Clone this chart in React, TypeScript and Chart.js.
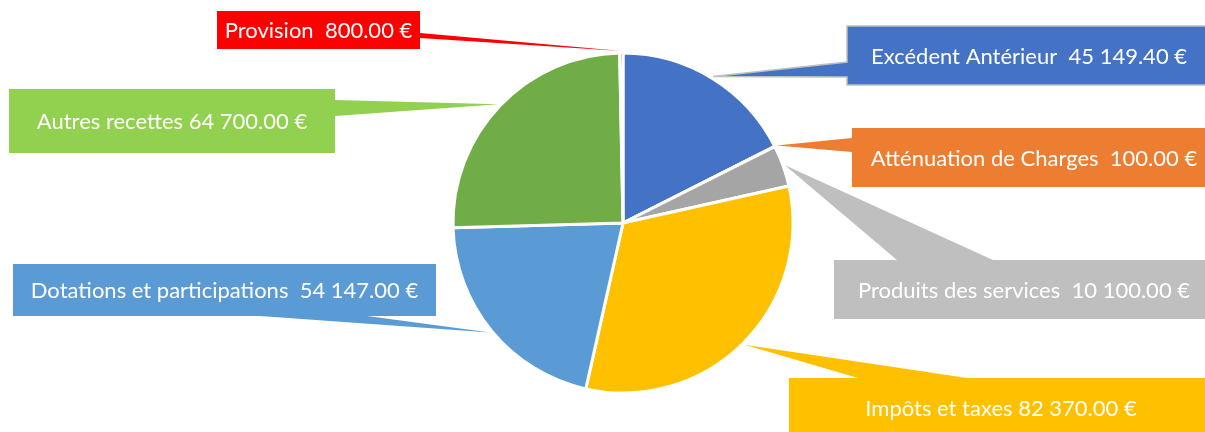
import React, { useEffect, useRef } from "react";
import { Chart, registerables } from "chart.js";

Chart.register(...registerables);

// ---- data ----
const categories = [
  "Excédent Antérieur ",
  "Atténuation de Charges ",
  "Produits des services ",
  "Impôts et taxes",
  "Dotations et participations ",
  "Autres recettes",
  "Provision ",
];
const values = [45149.4, 100, 10100, 82370, 54147, 64700, 800];

// ---- styles ----
const sliceColors = ["#4472C4", "#ED7D31", "#A5A5A5", "#FFC000", "#5B9BD5", "#70AD47", "#FF0000"];
const calloutColors = ["#4472C4", "#ED7D31", "#BFBFBF", "#FFC000", "#5B9BD5", "#92D050", "#FF0000"];

// ---- callout layout (box rect, edge carrying the pointer, pointer base span) ----
type Callout = { box: [number, number, number, number]; edge: "left" | "right" | "top" | "bottom"; base: [number, number]; border?: string };
const calloutLayout: Callout[] = [
  { box: [847, 26, 364, 59], edge: "left", base: [62, 77], border: "#BFBFBF" },
  { box: [852, 128, 364, 59], edge: "left", base: [138, 152] },
  { box: [834, 260, 380, 59], edge: "top", base: [897, 993] },
  { box: [789, 378, 424, 60], edge: "top", base: [858, 967] },
  { box: [13, 264, 423, 52], edge: "bottom", base: [260, 367] },
  { box: [9, 89, 326, 64], edge: "right", base: [100, 116] },
  { box: [217, 11, 203, 38], edge: "right", base: [33, 38] },
];

function fmtEuro(v: number): string {
  const [ip, dp] = v.toFixed(2).split(".");
  const grouped = ip.replace(/\B(?=(\d{3})+(?!\d))/g, " ");
  return `${grouped}.${dp} €`;
}

function calloutPolygon(c: Callout, tip: [number, number]): [number, number][] {
  const [x, y, w, h] = c.box;
  const [b1, b2] = c.base;
  switch (c.edge) {
    case "left":
      return [[x, y], [x + w, y], [x + w, y + h], [x, y + h], [x, b2], tip, [x, b1]];
    case "right":
      return [[x, y], [x + w, y], [x + w, b1], tip, [x + w, b2], [x + w, y + h], [x, y + h]];
    case "top":
      return [[x, y], [b1, y], tip, [b2, y], [x + w, y], [x + w, y + h], [x, y + h]];
    case "bottom":
    default:
      return [[x, y], [x + w, y], [x + w, y + h], [b2, y + h], tip, [b1, y + h], [x, y + h]];
  }
}

const calloutPlugin = {
  id: "callouts",
  afterDatasetsDraw(chart: any) {
    const ctx: CanvasRenderingContext2D = chart.ctx;
    const meta = chart.getDatasetMeta(0);
    meta.data.forEach((arc: any, i: number) => {
      const c = calloutLayout[i];
      if (!c) return;
      const mid = (arc.startAngle + arc.endAngle) / 2;
      const r = arc.outerRadius + 2;
      const tip: [number, number] = [arc.x + Math.cos(mid) * r, arc.y + Math.sin(mid) * r];
      const pts = calloutPolygon(c, tip);
      ctx.save();
      ctx.beginPath();
      pts.forEach((p, k) => (k === 0 ? ctx.moveTo(p[0], p[1]) : ctx.lineTo(p[0], p[1])));
      ctx.closePath();
      ctx.fillStyle = calloutColors[i];
      ctx.fill();
      if (c.border) {
        ctx.strokeStyle = c.border;
        ctx.lineWidth = 1.5;
        ctx.stroke();
      }
      const [x, y, w, h] = c.box;
      ctx.fillStyle = "#FFFFFF";
      ctx.font = "22px Lato, 'Open Sans', sans-serif";
      ctx.textAlign = "center";
      ctx.textBaseline = "middle";
      const label = `${categories[i]} ${fmtEuro(values[i])}`;
      ctx.fillText(label, x + w / 2, y + h / 2 + 1);
      ctx.restore();
    });
  },
};

export default function App() {
  const ref = useRef<HTMLCanvasElement | null>(null);
  useEffect(() => {
    if (!ref.current) return;
    const chart = new Chart(ref.current, {
      type: "pie",
      data: {
        labels: categories.map((c) => c.trim()),
        datasets: [
          {
            data: values,
            backgroundColor: sliceColors,
            borderColor: "#FFFFFF",
            borderWidth: 3,
            radius: 170,
          } as any,
        ],
      },
      options: {
        animation: false,
        responsive: true,
        maintainAspectRatio: false,
        layout: { padding: { left: 41, right: 0, top: 14, bottom: 0 } },
        plugins: {
          legend: { display: false },
          tooltip: { enabled: false },
        },
      },
      plugins: [calloutPlugin],
    });
    return () => chart.destroy();
  }, []);
  return (
    <div style={{ position: "fixed", left: 0, top: 0, width: 1205, height: 432, background: "#FFFFFF" }}>
      <canvas ref={ref} />
    </div>
  );
}
